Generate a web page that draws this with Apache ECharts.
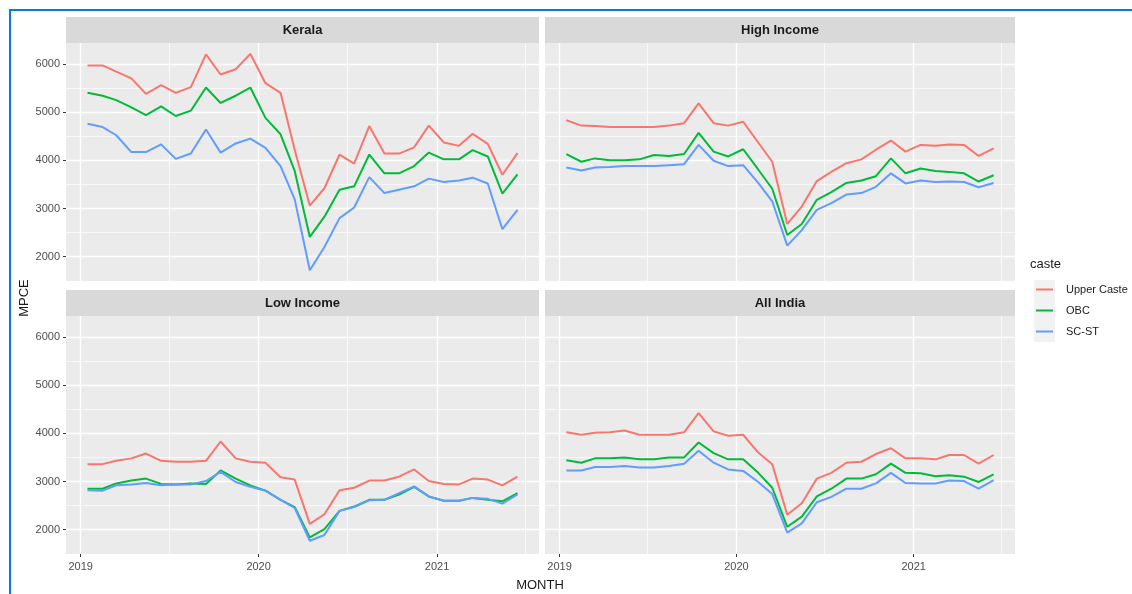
<!DOCTYPE html>
<html>
<head>
    <meta charset="utf-8">
    <title>MPCE by caste</title>
    <script src="https://cdn.jsdelivr.net/npm/echarts@6/dist/echarts.min.js"></script>
    <style>
        html, body { margin: 0; padding: 0; background: #fff; }
        #main { width: 1132px; height: 594px; }
    </style>
</head>
<body>
<div id="main"></div>
<script>
    // months of the survey (points drawn mid-month)
    var months = ['2019-01', '2019-02', '2019-03', '2019-04', '2019-05', '2019-06',
        '2019-07', '2019-08', '2019-09', '2019-10', '2019-11', '2019-12',
        '2020-01', '2020-02', '2020-03', '2020-04', '2020-05', '2020-06',
        '2020-07', '2020-08', '2020-09', '2020-10', '2020-11', '2020-12',
        '2021-01', '2021-02', '2021-03', '2021-04', '2021-05', '2021-06'];
    var panels = ['Kerala', 'High Income', 'Low Income', 'All India'];
    var castes = ['Upper Caste', 'OBC', 'SC-ST'];
    var xTicks = ['2019-01-01', '2020-01-01', '2021-01-01'];
    var xMinorTicks = ['2019-07-01', '2020-07-01', '2021-07-01'];
    var yTicks = [2000, 3000, 4000, 5000, 6000];
    var yMinorTicks = [1500, 2500, 3500, 4500, 5500, 6500];

    var keralaUpper = [5970, 5970, 5840, 5700, 5380, 5560, 5400, 5520, 6200, 5780, 5890, 6210, 5600, 5400, 4220, 3060, 3420, 4120, 3930, 4710, 4140, 4140, 4270, 4720, 4370, 4300, 4550, 4340, 3700, 4150];
    var keralaObc = [5400, 5340, 5250, 5100, 4940, 5120, 4920, 5030, 5510, 5190, 5340, 5510, 4880, 4540, 3780, 2410, 2830, 3390, 3460, 4120, 3730, 3730, 3880, 4160, 4020, 4020, 4210, 4080, 3310, 3710];
    var keralaScst = [4760, 4690, 4520, 4170, 4170, 4330, 4030, 4140, 4640, 4160, 4350, 4450, 4260, 3880, 3190, 1720, 2200, 2800, 3020, 3650, 3320, 3390, 3460, 3620, 3550, 3580, 3640, 3520, 2570, 2970];

    var highUpper = [4830, 4720, 4710, 4690, 4690, 4690, 4690, 4720, 4770, 5180, 4770, 4720, 4800, 4370, 3970, 2680, 3040, 3570, 3760, 3940, 4020, 4220, 4410, 4180, 4320, 4300, 4330, 4320, 4090, 4250];
    var highObc = [4130, 3970, 4040, 4000, 4000, 4020, 4110, 4090, 4130, 4570, 4180, 4080, 4230, 3810, 3410, 2450, 2680, 3180, 3340, 3530, 3580, 3670, 4040, 3730, 3830, 3780, 3760, 3730, 3560, 3690];
    var highScst = [3850, 3790, 3850, 3860, 3880, 3880, 3880, 3900, 3920, 4320, 3990, 3880, 3900, 3530, 3150, 2230, 2550, 2970, 3110, 3290, 3320, 3450, 3730, 3520, 3580, 3550, 3560, 3550, 3440, 3530];

    var lowUpper = [3360, 3360, 3430, 3480, 3580, 3430, 3410, 3410, 3430, 3830, 3480, 3410, 3390, 3090, 3040, 2120, 2320, 2820, 2870, 3020, 3020, 3100, 3250, 3010, 2950, 2940, 3060, 3040, 2920, 3100];
    var lowObc = [2850, 2850, 2960, 3020, 3060, 2950, 2940, 2960, 2950, 3230, 3060, 2920, 2810, 2620, 2470, 1840, 2010, 2390, 2480, 2620, 2620, 2730, 2890, 2690, 2600, 2600, 2660, 2620, 2590, 2760];
    var lowScst = [2820, 2810, 2920, 2940, 2970, 2920, 2940, 2940, 3010, 3200, 2990, 2890, 2810, 2620, 2450, 1770, 1890, 2390, 2470, 2610, 2620, 2760, 2900, 2690, 2600, 2600, 2660, 2640, 2540, 2730];

    var indiaUpper = [4020, 3970, 4010, 4020, 4060, 3970, 3970, 3970, 4020, 4420, 4040, 3950, 3970, 3600, 3360, 2310, 2550, 3060, 3180, 3390, 3410, 3570, 3690, 3480, 3480, 3460, 3550, 3550, 3370, 3550];
    var indiaObc = [3440, 3390, 3480, 3480, 3500, 3460, 3460, 3500, 3500, 3810, 3590, 3460, 3460, 3180, 2870, 2060, 2270, 2690, 2850, 3060, 3060, 3150, 3370, 3180, 3170, 3110, 3130, 3100, 2990, 3150];
    var indiaScst = [3230, 3230, 3300, 3300, 3320, 3290, 3290, 3320, 3370, 3640, 3390, 3250, 3220, 2990, 2740, 1940, 2130, 2570, 2680, 2850, 2850, 2960, 3180, 2970, 2960, 2960, 3020, 3010, 2850, 3030];

    var panelData = [
        [keralaUpper, keralaObc, keralaScst],
        [highUpper, highObc, highScst],
        [lowUpper, lowObc, lowScst],
        [indiaUpper, indiaObc, indiaScst]
    ];
    var colors = ['#F8766D', '#00BA38', '#619CFF'];
    var font = 'Liberation Sans, Arial, sans-serif';

    function toMs(s) {
        var p = s.split('-');
        return Date.UTC(+p[0], +p[1] - 1, p[2] ? +p[2] : 15);
    }

    // ggplot-like 5% expansion of the shared scales
    var xs = months.map(toMs);
    var xSpan = xs[xs.length - 1] - xs[0];
    var xMin = xs[0] - xSpan * 0.05, xMax = xs[xs.length - 1] + xSpan * 0.05;
    var allVals = [].concat.apply([], panelData.map(function (p) { return [].concat.apply([], p); }));
    var vMin = Math.min.apply(null, allVals), vMax = Math.max.apply(null, allVals);
    var yMin = vMin - (vMax - vMin) * 0.05, yMax = vMax + (vMax - vMin) * 0.05;

    var cells = [
        { left: 66, top: 43, width: 473, height: 238 },
        { left: 545, top: 43, width: 470, height: 238 },
        { left: 66, top: 316, width: 473, height: 238 },
        { left: 545, top: 316, width: 470, height: 238 }
    ];

    var grids = [], xAxes = [], yAxes = [], series = [], graphics = [];

    cells.forEach(function (c, i) {
        var bottomRow = i >= 2, leftCol = i % 2 === 0;
        grids.push({
            left: c.left, top: c.top, width: c.width, height: c.height,
            show: true, backgroundColor: '#EBEBEB', borderWidth: 0
        });
        // major x axis (timestamps on a value scale)
        xAxes.push({
            type: 'value', gridIndex: i, min: xMin, max: xMax,
            axisLine: { show: false },
            axisTick: { show: bottomRow, length: 3, lineStyle: { color: '#333' }, customValues: xTicks.map(toMs) },
            axisLabel: {
                show: bottomRow, margin: 7, color: '#4D4D4D', fontSize: 11, fontFamily: font,
                customValues: xTicks.map(toMs),
                formatter: function (v) { return String(new Date(v).getUTCFullYear()); }
            },
            splitLine: { show: true, lineStyle: { color: '#FFFFFF', width: 1.4 } }
        });
        // minor x grid
        xAxes.push({
            type: 'value', gridIndex: i, min: xMin, max: xMax,
            axisLine: { show: false },
            axisTick: { show: false, customValues: xMinorTicks.map(toMs) },
            axisLabel: { show: false, customValues: xMinorTicks.map(toMs) },
            splitLine: { show: true, lineStyle: { color: '#FFFFFF', width: 0.7 } }
        });
        yAxes.push({
            type: 'value', gridIndex: i, min: yMin, max: yMax,
            axisLine: { show: false },
            axisTick: { show: leftCol, length: 3, lineStyle: { color: '#333' }, customValues: yTicks },
            axisLabel: {
                show: leftCol, margin: 6, color: '#4D4D4D', fontSize: 11, fontFamily: font, customValues: yTicks,
                formatter: function (v) { return String(v); }
            },
            splitLine: { show: true, lineStyle: { color: '#FFFFFF', width: 1.4 } }
        });
        yAxes.push({
            type: 'value', gridIndex: i, min: yMin, max: yMax,
            axisLine: { show: false },
            axisTick: { show: false, customValues: yMinorTicks },
            axisLabel: { show: false, customValues: yMinorTicks },
            splitLine: { show: true, lineStyle: { color: '#FFFFFF', width: 0.7 } }
        });

        panelData[i].forEach(function (vals, k) {
            series.push({
                name: castes[k], type: 'line',
                xAxisIndex: 2 * i, yAxisIndex: 2 * i,
                data: vals.map(function (v, j) { return [xs[j], v]; }),
                showSymbol: false, symbol: 'none',
                lineStyle: { color: colors[k], width: 2 },
                itemStyle: { color: colors[k] },
                emphasis: { disabled: true },
                z: 3 + k
            });
        });

        // facet strip
        graphics.push({
            type: 'rect', shape: { x: c.left, y: c.top - 26, width: c.width, height: 26 },
            style: { fill: '#D9D9D9' }, silent: true
        });
        graphics.push({
            type: 'text', x: c.left + c.width / 2, y: c.top - 13,
            style: {
                text: panels[i], fill: '#1A1A1A', font: 'bold 13px ' + font,
                align: 'center', verticalAlign: 'middle', textAlign: 'center', textVerticalAlign: 'middle'
            }
        });
    });

    // page frame, axis titles, legend title and key background
    graphics.push({
        type: 'rect', shape: { x: 10, y: 10, width: 1200, height: 700 },
        style: { fill: 'none', stroke: '#0A7BD6', lineWidth: 2 }, silent: true
    });
    graphics.push({
        type: 'text', x: 540, y: 585,
        style: { text: 'MONTH', fill: '#1A1A1A', font: '13px ' + font, align: 'center', verticalAlign: 'middle', textAlign: 'center', textVerticalAlign: 'middle' }
    });
    graphics.push({
        type: 'text', x: 24, y: 298, rotation: Math.PI / 2,
        style: { text: 'MPCE', fill: '#1A1A1A', font: '13px ' + font, align: 'center', verticalAlign: 'middle', textAlign: 'center', textVerticalAlign: 'middle' }
    });
    graphics.push({
        type: 'text', x: 1030, y: 264,
        style: { text: 'caste', fill: '#1A1A1A', font: '13px ' + font, align: 'left', verticalAlign: 'middle', textAlign: 'left', textVerticalAlign: 'middle' }
    });
    graphics.push({
        type: 'rect', shape: { x: 1034, y: 280, width: 21, height: 62 },
        style: { fill: '#F2F2F2' }, silent: true, z: -1
    });

    var chart = echarts.init(document.getElementById('main'));
    chart.setOption({
        animation: false,
        backgroundColor: '#FFFFFF',
        grid: grids,
        xAxis: xAxes,
        yAxis: yAxes,
        legend: {
            data: castes, orient: 'vertical', left: 1036, top: 284, padding: 0,
            icon: 'rect', itemWidth: 17, itemHeight: 2, itemGap: 10,
            textStyle: { color: '#1A1A1A', fontSize: 11, fontFamily: font, padding: [0, 0, 0, 8] }
        },
        graphic: { elements: graphics },
        series: series
    });
</script>
</body>
</html>
